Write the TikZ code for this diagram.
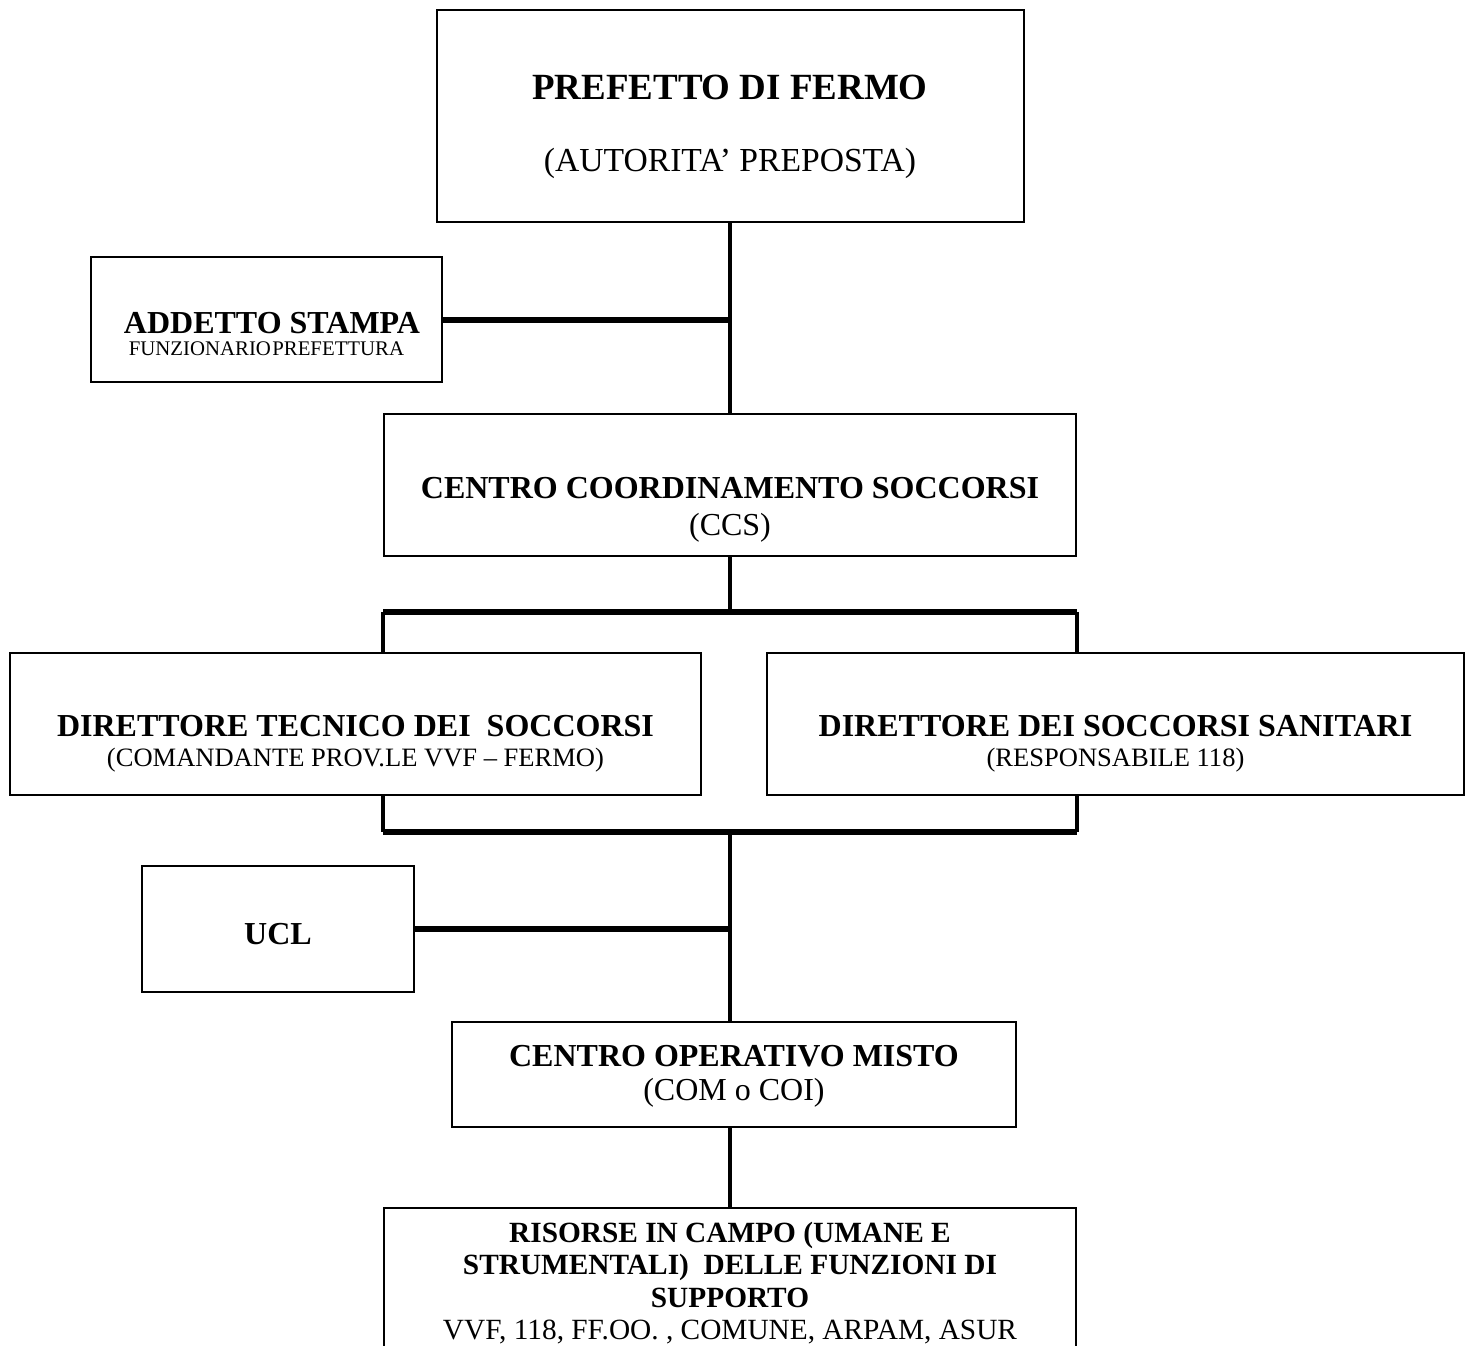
\documentclass[tikz,border=0pt]{standalone}
\usepackage{fontspec}
\setmainfont{Liberation Serif}
\usepackage{tikz}
\usetikzlibrary{positioning}
\newdimen\px
\px=0.75pt

\begin{document}
\begin{tikzpicture}[x=0.75pt,y=-0.75pt,
  box/.style={draw,line width=1.5pt,inner sep=0pt},
  link/.style={line width=3pt},
  bar/.style={line width=4.5pt},
  title/.style={inner sep=0pt,font=\fontsize{24}{27}\selectfont\bfseries},
  sub/.style={inner sep=0pt,font=\fontsize{19.9}{23}\selectfont},
  plain/.style={inner sep=0pt,font=\fontsize{24}{27}\selectfont}]
\useasboundingbox (0,0) rectangle (1465,1346);
\clip (0,0) rectangle (1465,1346);

% Prefetto
\node[box,minimum width=587\px,minimum height=212\px] (prefetto) at (730,116) {};
\node[inner sep=0pt,font=\fontsize{27.7}{32}\selectfont\bfseries] (prefettoT) at (730,87) {PREFETTO DI FERMO};
\node[inner sep=0pt,font=\fontsize{25.2}{28}\selectfont] (prefettoS) at (730,163) {(AUTORITA’ PREPOSTA)};

% Addetto stampa
\node[box,minimum width=351\px,minimum height=125\px] (addetto) at (266.5,319.5) {};
\node[title] (addettoT) at (272,323) {ADDETTO STAMPA};
\node[inner sep=0pt,font=\fontsize{15.6}{18}\selectfont] (addettoS) at (266.5,349) {FUNZIONARIO\kern1pt PREFETTURA};

% CCS
\node[box,minimum width=692\px,minimum height=142\px] (ccs) at (730,485) {};
\node[title] (ccsT) at (730,488) {CENTRO COORDINAMENTO SOCCORSI};
\node[plain] (ccsS) at (730,528) {(CCS)};

% Direttori
\node[box,minimum width=691\px,minimum height=142\px] (dts) at (355.5,724) {};
\node[title] (dtsT) at (355.5,726) {DIRETTORE TECNICO DEI\ \ SOCCORSI};
\node[sub] (dtsS) at (355.5,760) {(COMANDANTE PROV.LE VVF – FERMO)};
\node[box,minimum width=697\px,minimum height=142\px] (dss) at (1115.5,724) {};
\node[title] (dssT) at (1115.5,726) {DIRETTORE DEI SOCCORSI SANITARI};
\node[sub] (dssS) at (1115.5,760) {(RESPONSABILE 118)};

% UCL
\node[box,minimum width=272\px,minimum height=126\px] (ucl) at (278,929) {};
\node[title] (uclT) at (278,934) {UCL};

% COM
\node[box,minimum width=564\px,minimum height=105\px] (com) at (734,1074.5) {};
\node[title] (comT) at (734,1056) {CENTRO OPERATIVO MISTO};
\node[plain] (comS) at (734,1093) {(COM o COI)};

% Risorse
\node[box,minimum width=692\px,minimum height=200\px] (risorse) at (730,1308) {};
\node[inner sep=0pt,align=center,font=\fontsize{22}{24.3}\selectfont] (risorseT) at (730,1283)
  {\textbf{RISORSE IN CAMPO (UMANE E}\\ \textbf{STRUMENTALI)\ \ DELLE FUNZIONI DI}\\ \textbf{SUPPORTO}\\ VVF, 118, FF.OO. , COMUNE, ARPAM, ASUR};

% connectors
\coordinate (split) at (730,612);
\coordinate (merge) at (730,832);
\draw[link] (prefetto.south) -- (ccs.north);
\draw[bar] (addetto.east) -- (addetto.east -| prefetto.south);
\draw[link] (ccs.south) -- (split);
\draw[bar] (split -| ccs.west) -- (split -| ccs.east);
\draw[link] (split -| ccs.west) -- (dts.north -| ccs.west);
\draw[link] (split -| ccs.east) -- (dss.north -| ccs.east);
\draw[link] (dts.south -| ccs.west) -- (merge -| ccs.west);
\draw[link] (dss.south -| ccs.east) -- (merge -| ccs.east);
\draw[bar] (merge -| ccs.west) -- (merge -| ccs.east);
\draw[link] (merge) -- (merge |- com.north);
\draw[bar] (ucl.east) -- (ucl.east -| merge);
\draw[link] (com.south -| merge) -- (risorse.north -| merge);
\end{tikzpicture}
\end{document}
